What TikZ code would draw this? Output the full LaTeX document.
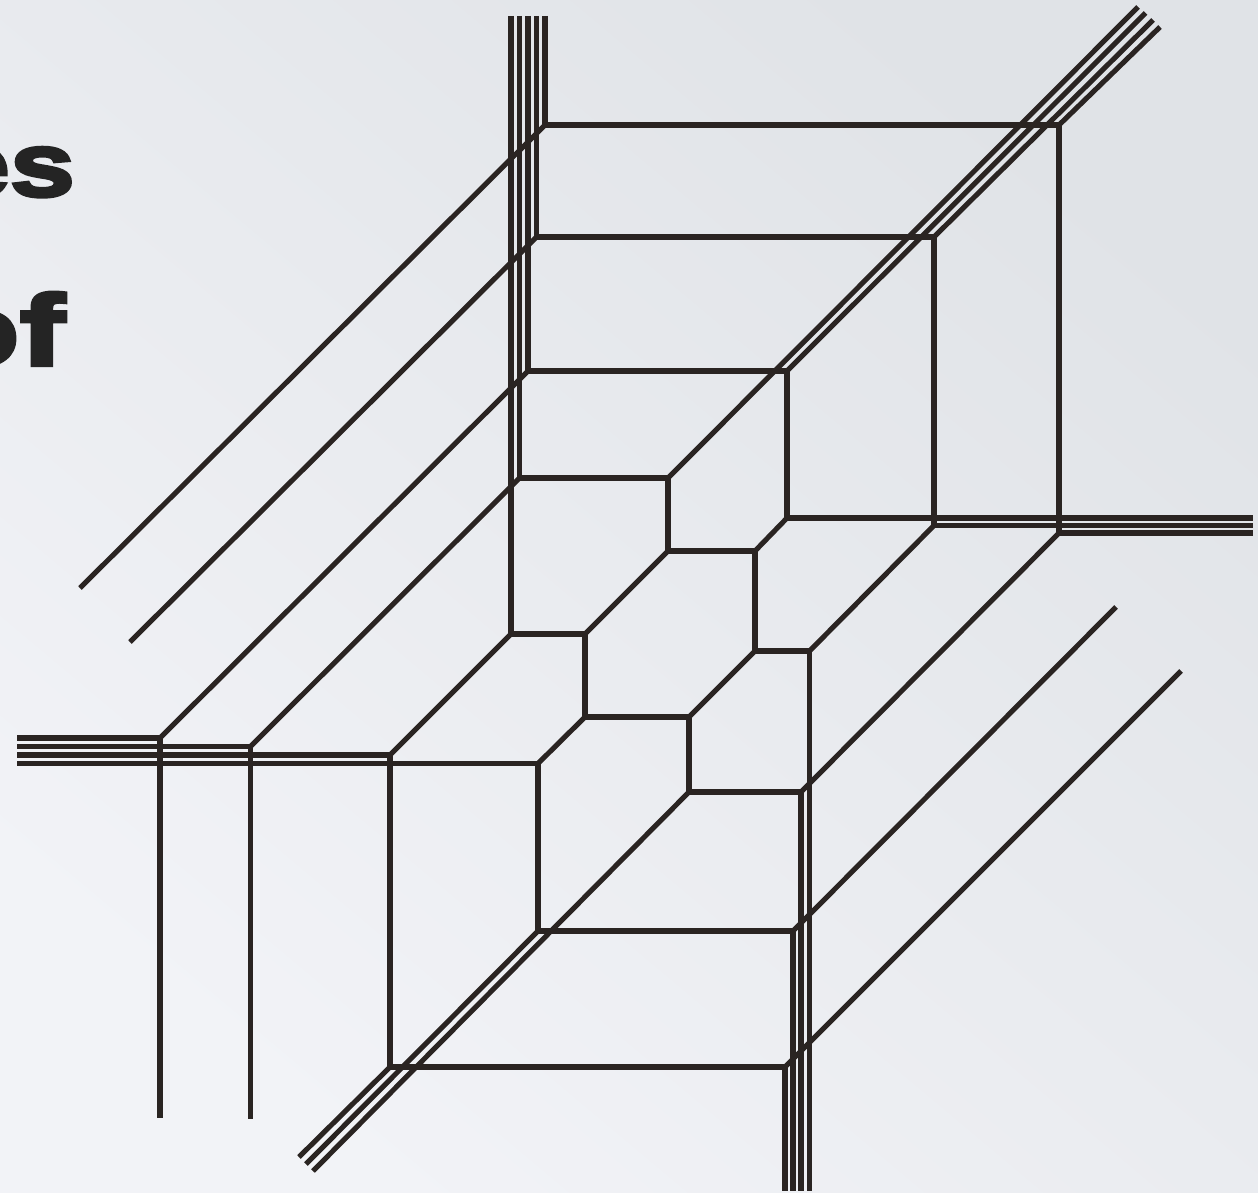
\documentclass[tikz,border=0pt]{standalone}
\usepackage{fontspec}
\newfontfamily\heavyes[FakeBold=4,FakeStretch=1.3]{Liberation Sans Bold}
\newfontfamily\heavyof[FakeBold=4,FakeStretch=1.36]{Liberation Sans Bold}
\definecolor{ink}{HTML}{2A2422}
\definecolor{bgA}{HTML}{F2F3F7}
\definecolor{bgB}{HTML}{E0E3E7}
\definecolor{txt}{HTML}{242424}
\tikzset{
  web/.style={draw=ink,line width=2.55pt,line cap=butt,line join=miter},
  heavytext/.style={inner sep=0pt,outer sep=0pt,text=txt,anchor=base east},
}
\begin{document}
\begin{tikzpicture}[x=0.5pt,y=-0.5pt]
\useasboundingbox (0,0) rectangle (1258,1193);
\shade[shading=axis,top color=bgB,bottom color=bgA,shading angle=-40] (0,0) rectangle (1258,1193);
\node[heavytext,font=\heavyes\fontsize{45}{45}\selectfont] (es) at (75,196) {es};
\node[heavytext,font=\heavyof\fontsize{50}{50}\selectfont] (of) at (65,365) {of};
% vertices, top row
\coordinate (a1) at (545,125);
\coordinate (a2) at (536.5,237);
\coordinate (a3) at (528,371);
\coordinate (a4) at (519.5,478);
\coordinate (a5) at (511,634);
\coordinate (b1) at (1059,125);
\coordinate (b2) at (934,237);
\coordinate (b3) at (787,371);
\coordinate (b4) at (668,478);
\coordinate (c1) at (1059,533);
\coordinate (c2) at (934,525.5);
\coordinate (c3) at (787,518);
\coordinate (c4) at (668,551);
\coordinate (d1) at (755,551);
\coordinate (d2) at (755,651);
\coordinate (d3) at (809.5,651);
\coordinate (e1) at (585,634);
\coordinate (e2) at (585,717);
\coordinate (e3) at (689,717);
\coordinate (e4) at (689,792);
\coordinate (e5) at (801,792);
\coordinate (f1) at (538,763.5);
\coordinate (f2) at (538,931);
\coordinate (f3) at (793,931);
\coordinate (g1) at (390,755);
\coordinate (g2) at (390,1067);
\coordinate (g3) at (785,1067);
\coordinate (h1) at (250.5,746.5);
\coordinate (h2) at (160,738);
% free ends: top verticals
\coordinate (ta1) at (545,16);
\coordinate (ta2) at (536.5,16);
\coordinate (ta3) at (528,16);
\coordinate (ta4) at (519.5,16);
\coordinate (ta5) at (511,16);
% free ends: upper-left diagonals
\coordinate (ul1) at (80,588);
\coordinate (ul2) at (130,642);
% free ends: upper-right diagonals
\coordinate (ur1) at (1160,27);
\coordinate (ur2) at (1153,20);
\coordinate (ur3) at (1145.5,13);
\coordinate (ur4) at (1138,7);
% free ends: right horizontals
\coordinate (r1) at (1253,518);
\coordinate (r2) at (1253,525.5);
\coordinate (r3) at (1253,533);
% free ends: left horizontals
\coordinate (l1) at (17,738);
\coordinate (l2) at (17,746.5);
\coordinate (l3) at (17,755);
\coordinate (l4) at (17,763.5);
% free ends: bottom
\coordinate (v1) at (160,1118);
\coordinate (v2) at (250.5,1119);
\coordinate (bt1) at (809.5,1191);
\coordinate (bt2) at (801,1191);
\coordinate (bt3) at (793,1191);
\coordinate (bt4) at (785,1191);
% free ends: lower-left diagonals
\coordinate (ll1) at (299,1157);
\coordinate (ll2) at (306,1164);
\coordinate (ll3) at (313,1171);
% free ends: lower-right diagonals
\coordinate (lr1) at (1116,607);
\coordinate (lr2) at (1181,671);
% verticals
\draw[web] (ta1)--(a1);
\draw[web] (ta2)--(a2);
\draw[web] (ta3)--(a3);
\draw[web] (ta4)--(a4);
\draw[web] (ta5)--(a5);
\draw[web] (b1)--(c1);
\draw[web] (b2)--(c2);
\draw[web] (b3)--(c3);
\draw[web] (b4)--(c4);
\draw[web] (d1)--(d2);
\draw[web] (e1)--(e2);
\draw[web] (e3)--(e4);
\draw[web] (f1)--(f2);
\draw[web] (g1)--(g2);
\draw[web] (h1)--(v2);
\draw[web] (h2)--(v1);
\draw[web] (d3)--(bt1);
\draw[web] (e5)--(bt2);
\draw[web] (f3)--(bt3);
\draw[web] (g3)--(bt4);
% horizontals
\draw[web] (a1)--(b1);
\draw[web] (a2)--(b2);
\draw[web] (a3)--(b3);
\draw[web] (a4)--(b4);
\draw[web] (a5)--(e1);
\draw[web] (c4)--(d1);
\draw[web] (d2)--(d3);
\draw[web] (e2)--(e3);
\draw[web] (e4)--(e5);
\draw[web] (f2)--(f3);
\draw[web] (g2)--(g3);
\draw[web] (c3)--(r1);
\draw[web] (c2)--(r2);
\draw[web] (c1)--(r3);
\draw[web] (l1)--(h2);
\draw[web] (l2)--(h1);
\draw[web] (l3)--(g1);
\draw[web] (l4)--(f1);
% diagonals
\draw[web] (ul1)--(a1);
\draw[web] (ul2)--(a2);
\draw[web] (h2)--(a3);
\draw[web] (h1)--(a4);
\draw[web] (g1)--(a5);
\draw[web] (b1)--(ur1);
\draw[web] (b2)--(ur2);
\draw[web] (b3)--(ur3);
\draw[web] (b4)--(ur4);
\draw[web] (e1)--(c4);
\draw[web] (d1)--(c3);
\draw[web] (e3)--(d2);
\draw[web] (f1)--(e2);
\draw[web] (d3)--(c2);
\draw[web] (e5)--(c1);
\draw[web] (f3)--(lr1);
\draw[web] (g3)--(lr2);
\draw[web] (ll1)--(g2);
\draw[web] (ll2)--(f2);
\draw[web] (ll3)--(e4);
% closed joints
\foreach \v in {a1,a2,a3,a4,a5,b1,b2,b3,b4,c1,c2,c3,c4,d1,d2,d3,e1,e2,e3,e4,e5,f1,f2,f3,g1,g2,g3,h1,h2}
  \fill[ink] (\v) circle[radius=1.27pt];
\end{tikzpicture}
\end{document}
